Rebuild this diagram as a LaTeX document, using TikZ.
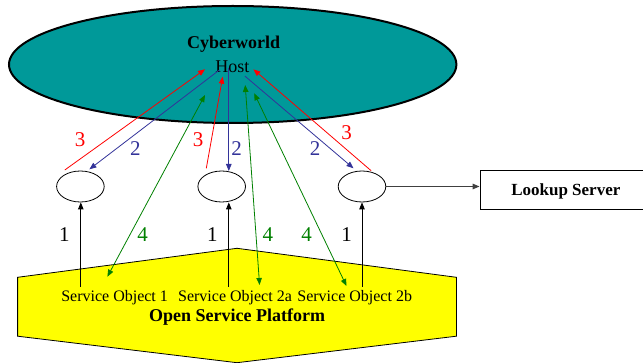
\documentclass[tikz,border=0pt]{standalone}
\usepackage{fontspec}
\setmainfont{Liberation Serif}
\usetikzlibrary{shapes.geometric,arrows.meta}
\definecolor{worldteal}{RGB}{0,153,153}
\definecolor{msgred}{RGB}{255,0,0}
\definecolor{msgblue}{RGB}{51,51,153}
\definecolor{msggreen}{RGB}{0,128,0}
\definecolor{platyellow}{RGB}{255,255,0}
\tikzset{
  tip/.tip={Triangle[length=7pt,width=5.5pt]},
  conn/.style={line width=0.8pt,-tip},
  dconn/.style={line width=0.8pt,tip-tip},
  numlbl/.style={font=\fontsize{21}{23}\selectfont,inner sep=0pt},
  txt/.style={font=\fontsize{16}{18}\selectfont,inner sep=0pt},
  btxt/.style={font=\fontsize{18}{20}\selectfont\bfseries,inner sep=0pt},
  proxy/.style={ellipse,draw,line width=0.8pt,fill=white,minimum width=47.6pt,minimum height=31pt,inner sep=0pt},
}
\begin{document}
\begin{tikzpicture}[x=1pt,y=-1pt]
\useasboundingbox (0,0) rectangle (643,363);

% cyberworld host
\node[ellipse,draw,line width=2pt,fill=worldteal,minimum width=447.4pt,minimum height=117pt,inner sep=0pt] (world) at (232.7,64.5) {};
\node[btxt] (cw) at (233.7,44) {Cyberworld};
\node[font=\fontsize{18}{20}\selectfont,inner sep=0pt] (host) at (232.5,67) {Host};

% open service platform
\draw[line width=0.8pt,fill=platyellow] (17.6,277.3) -- (237,248.3) -- (456.4,277.3) -- (456.4,336.2) -- (237,362.7) -- (17.6,336.2) -- cycle;
\node[txt] (so1) at (114.6,297.3) {Service Object 1};
\node[txt] (so2a) at (235,297.3) {Service Object 2a};
\node[txt] (so2b) at (354.7,297.3) {Service Object 2b};
\node[btxt] (osp) at (237.2,316.7) {Open Service Platform};

% proxies
\node[proxy] (p1) at (80.4,186.5) {};
\node[proxy] (p2) at (221.7,186.5) {};
\node[proxy] (p3) at (362,186.5) {};

% lookup server
\node[draw,line width=0.8pt,minimum width=172pt,minimum height=39.3pt,inner sep=0pt] (lookup) at (566,189.7) {};
\node[font=\fontsize{17}{19}\selectfont\bfseries,inner sep=0pt] (lt) at (565.8,191.7) {Lookup Server};
\draw[conn,draw=black!75,fill=black,line width=1.2pt] (p3.east) -- (lookup.west |- p3.east);

% endpoints of the message lines
\coordinate (r1a) at (64.8,170);   \coordinate (r1b) at (205,69.3);
\coordinate (r2a) at (206.3,168.3); \coordinate (r2b) at (222.7,76.7);
\coordinate (r3a) at (371.1,170.7); \coordinate (r3b) at (253.4,69.3);
\coordinate (b1a) at (219.4,70);   \coordinate (b1b) at (89.4,169.3);
\coordinate (b2a) at (228.8,68.3); \coordinate (b2b) at (228.8,171);
\coordinate (b3a) at (244.8,76);   \coordinate (b3b) at (353.5,168.3);
\coordinate (g1a) at (107.4,276.7); \coordinate (g1b) at (205,95);
\coordinate (g2a) at (259.6,285);  \coordinate (g2b) at (245.2,85);
\coordinate (g3a) at (346.5,286);  \coordinate (g3b) at (254.2,93.3);
\coordinate (k1) at (80.8,286.7);
\coordinate (k2) at (228.8,286.7);
\coordinate (k3) at (362,286.7);

% step 1: registration
\draw[conn] (k1) -- (k1 |- p1.south);
\draw[conn] (k2) -- (k2 |- p2.south);
\draw[conn] (k3) -- (k3 |- p3.south);
% step 2
\draw[conn,msgblue] (b1a) -- (b1b);
\draw[conn,msgblue] (b2a) -- (b2b);
\draw[conn,msgblue] (b3a) -- (b3b);
% step 3
\draw[conn,msgred] (r1a) -- (r1b);
\draw[conn,msgred] (r2a) -- (r2b);
\draw[conn,msgred] (r3a) -- (r3b);
% step 4
\draw[dconn,msggreen] (g1a) -- (g1b);
\draw[dconn,msggreen] (g2a) -- (g2b);
\draw[dconn,msggreen] (g3a) -- (g3b);

% step numbers
\node[numlbl,msgred] (n3a) at (80,140) {3};
\node[numlbl,msgred] (n3b) at (198,140) {3};
\node[numlbl,msgred] (n3c) at (346.5,133) {3};
\node[numlbl,msgblue] (n2a) at (135.3,148.3) {2};
\node[numlbl,msgblue] (n2b) at (236.6,148.3) {2};
\node[numlbl,msgblue] (n2c) at (315,148.3) {2};
\node[numlbl] (n1a) at (64.4,235) {1};
\node[numlbl] (n1b) at (212.4,235) {1};
\node[numlbl] (n1c) at (346.5,235) {1};
\node[numlbl,msggreen] (n4a) at (142.7,235) {4};
\node[numlbl,msggreen] (n4b) at (267.8,235) {4};
\node[numlbl,msggreen] (n4c) at (306.7,235) {4};
\end{tikzpicture}
\end{document}
